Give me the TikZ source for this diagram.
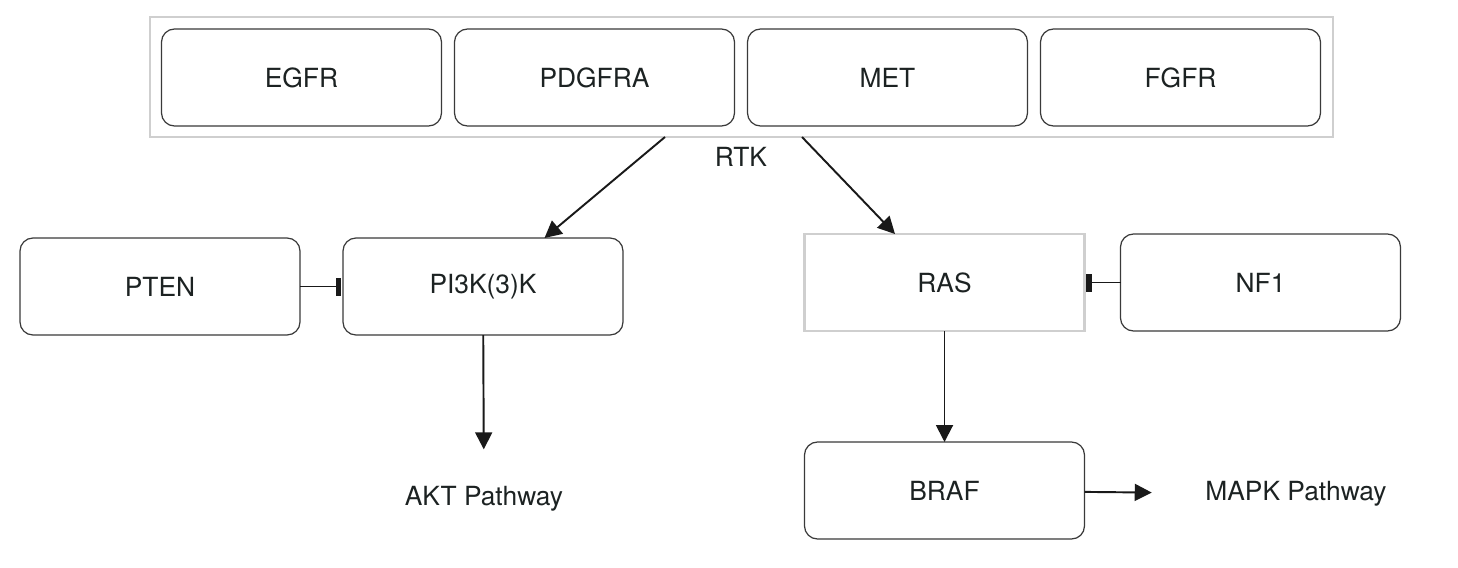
\documentclass[tikz,border=0pt]{standalone}
\usepackage{fontspec}
\setmainfont{TeX Gyre Heros}
\usetikzlibrary{positioning}
\usetikzlibrary{arrows.meta}
\definecolor{boxline}{HTML}{3A3A3A}
\definecolor{paleline}{HTML}{CFCFCF}
\definecolor{inkcol}{HTML}{1C2222}

\begin{document}
\begin{tikzpicture}[
    font = \fontsize{15}{18}\selectfont,
    text = inkcol,
    >={Triangle[length=3.4mm,width=3.4mm]},
    ]

    \tikzstyle{gene}=[
    draw = boxline,
    line width = 0.7pt,
    rounded corners = 0.26cm,
    fill = white,
    minimum width = 5.6cm,
    minimum height = 1.94cm,
    inner sep = 0pt,
    outer sep = 0pt,
    ]
    \tikzstyle{plain}=[
    draw = paleline,
    line width = 1.2pt,
    fill = white,
    inner sep = 0pt,
    outer sep = 0pt,
    ]
    \tikzstyle{act}=[->, line width = 1.1pt, draw = black!90]
    \tikzstyle{inh}=[-{Rectangle[length=1.1mm,width=3.6mm]}, line width = 1.1pt, draw = black!90, shorten >=1pt]

    \useasboundingbox (0,0) rectangle (29.16,-11.34);

    \node[plain, minimum width=23.66cm, minimum height=2.4cm] (rtk) at (14.83,-1.54) {};
    \node[gene] (egfr) at (6.03,-1.55) {EGFR};
    \node[gene] (pdgfra) [right=0.26cm of egfr] {PDGFRA};
    \node[gene] (met) [right=0.26cm of pdgfra] {MET};
    \node[gene] (fgfr) [right=0.26cm of met] {FGFR};
    \node (rtklbl) at (14.82,-3.14) {RTK};

    \node[gene] (pten) at (3.2,-5.73) {PTEN};
    \node[gene] (pik) [right=0.86cm of pten] {PI3K(3)K};
    \node[plain, minimum width=5.6cm, minimum height=1.94cm] (ras) at (18.89,-5.65) {RAS};
    \node[gene] (nf1) [right=0.72cm of ras] {NF1};
    \node[gene] (braf) [below=2.22cm of ras] {BRAF};
    \node (akt) at (9.68,-9.98) {AKT Pathway};
    \node (mapk) at (25.92,-9.88) {MAPK Pathway};

    \draw[act] ([xshift=-1.53cm]rtk.south) -- ([xshift=1.23cm]pik.north);
    \draw[act] ([xshift=1.21cm]rtk.south) -- ([xshift=-0.99cm]ras.north);
    \draw[inh] (pten) -- (pik);
    \draw[inh] (nf1) -- (ras);
    \draw[act, shorten >=0.62cm] (pik) -- (akt);
    \draw[act] (ras) -- (braf);
    \draw[act, shorten >=0.95cm] (braf) -- (mapk);
  \end{tikzpicture}
\end{document}
